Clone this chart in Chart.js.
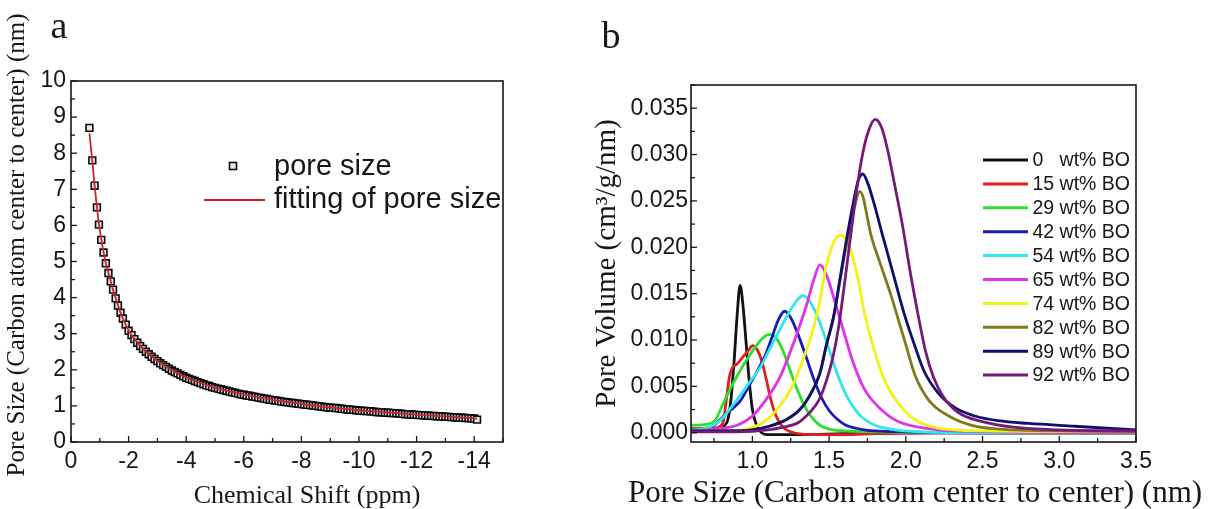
<!DOCTYPE html>
<html><head><meta charset="utf-8">
<script src="https://cdn.jsdelivr.net/npm/chart.js@4.4.1/dist/chart.umd.min.js"></script>
<style>
html,body{margin:0;padding:0;background:#fff;width:1210px;height:509px;overflow:hidden}
#ca{position:absolute;left:0;top:0}
#cb{position:absolute;left:560px;top:0}
</style></head><body>
<canvas id="ca" width="560" height="509"></canvas>
<canvas id="cb" width="650" height="509"></canvas>
<script>
// ---------- Panel a data ----------
const chemicalShift = [-0.64,-0.74,-0.82,-0.90,-0.97,-1.05,-1.13,-1.21,-1.30,-1.38,-1.46,-1.55,-1.63,-1.72,-1.80,-1.90,
  -2.0,-2.1,-2.2,-2.3,-2.4,-2.5,-2.6,-2.7,-2.8,-2.9,-3.0,-3.1,-3.2,-3.3,-3.4,-3.5,-3.6,-3.7,-3.8,-3.9,
  -4.0,-4.1,-4.2,-4.3,-4.4,-4.5,-4.6,-4.7,-4.8,-4.9,-5.0,-5.1,-5.2,-5.3,-5.4,-5.5,-5.6,-5.7,-5.8,-5.9,
  -6.0,-6.1,-6.2,-6.3,-6.4,-6.5,-6.6,-6.7,-6.8,-6.9,-7.0,-7.1,-7.2,-7.3,-7.4,-7.5,-7.6,-7.7,-7.8,-7.9,
  -8.0,-8.1,-8.2,-8.3,-8.4,-8.5,-8.6,-8.7,-8.8,-8.9,-9.0,-9.1,-9.2,-9.3,-9.4,-9.5,-9.6,-9.7,-9.8,-9.9,
  -10.0,-10.1,-10.2,-10.3,-10.4,-10.5,-10.6,-10.7,-10.8,-10.9,-11.0,-11.1,-11.2,-11.3,-11.4,-11.5,-11.6,-11.7,-11.8,-11.9,
  -12.0,-12.1,-12.2,-12.3,-12.4,-12.5,-12.6,-12.7,-12.8,-12.9,-13.0,-13.1,-13.2,-13.3,-13.4,-13.5,-13.6,-13.7,-13.8,-13.9,
  -14.0,-14.1];
const poreSize = [8.70,7.80,7.10,6.50,6.02,5.60,5.25,4.95,4.68,4.45,4.22,3.98,3.78,3.58,3.42,3.25,
  3.08,2.96,2.85,2.75,2.66,2.58,2.50,2.43,2.36,2.30,2.24,2.18,2.13,2.08,2.03,1.98,1.94,1.90,1.86,1.82,
  1.78,1.75,1.72,1.69,1.66,1.63,1.60,1.57,1.55,1.52,1.50,1.48,1.46,1.44,1.42,1.40,1.38,1.36,1.34,1.32,
  1.31,1.29,1.28,1.26,1.25,1.23,1.22,1.20,1.19,1.17,1.16,1.15,1.14,1.12,1.11,1.10,1.09,1.08,1.07,1.06,
  1.05,1.04,1.03,1.02,1.01,1.00,0.99,0.98,0.97,0.96,0.95,0.945,0.94,0.93,0.92,0.91,0.90,0.895,0.89,0.88,
  0.87,0.865,0.86,0.855,0.85,0.84,0.83,0.825,0.82,0.815,0.81,0.805,0.80,0.795,0.79,0.78,0.77,0.765,0.76,0.755,
  0.75,0.745,0.74,0.735,0.73,0.725,0.72,0.715,0.71,0.705,0.70,0.695,0.69,0.685,0.68,0.675,0.67,0.665,0.66,0.655,
  0.65,0.62];
const fitShift = [-0.64,-0.74,-0.82,-0.90,-0.97,-1.05,-1.13,-1.21,-1.30,-1.38,-1.46,-1.55,-1.63,-1.72,-1.80,-1.90,
  -2.0,-2.4,-2.8,-3.2,-3.6,-4.0,-4.5,-5.0,-5.5,-6.0,-7.0,-8.0,-9.0,-10.0,-11.0,-12.0,-13.0,-14.1];
const fitSize = [8.55,7.78,7.10,6.50,6.04,5.61,5.26,4.95,4.68,4.45,4.22,3.99,3.79,3.59,3.43,3.26,
  3.09,2.67,2.37,2.14,1.95,1.79,1.64,1.51,1.41,1.32,1.17,1.06,0.96,0.88,0.82,0.76,0.71,0.65];
const panelALabels = ['pore size', 'fitting of pore size'];

// ---------- Panel b data ----------
const seriesLabels = ['0   wt% BO','15 wt% BO','29 wt% BO','42 wt% BO','54 wt% BO','65 wt% BO','74 wt% BO','82 wt% BO','89 wt% BO','92 wt% BO'];
const bo0Size = [0.60,0.70,0.78,0.82,0.84,0.86,0.88,0.90,0.92,0.94,0.96,0.98,1.00,1.03,1.06,1.10,1.30,1.60,2.00,2.50,3.00,3.50];
const bo0Vol  = [0.0004,0.0004,0.0005,0.0008,0.0014,0.0035,0.0075,0.0125,0.0159,0.0135,0.0095,0.0055,0.0025,0.0007,0.0000,-0.0002,-0.0002,-0.0001,0.0000,0.0000,0.0000,0.0000];
const bo15Size = [0.60,0.70,0.78,0.81,0.83,0.85,0.87,0.90,0.94,0.98,1.00,1.03,1.06,1.09,1.12,1.15,1.20,1.27,1.40,1.60,1.80,2.20,3.50];
const bo15Vol  = [0.0004,0.0004,0.0006,0.0012,0.0035,0.0060,0.0070,0.0074,0.0082,0.0090,0.0094,0.0090,0.0078,0.0058,0.0036,0.0020,0.0006,0.0000,-0.0002,-0.0002,-0.0001,0.0000,0.0000];
const bo29Size = [0.60,0.70,0.76,0.80,0.84,0.88,0.92,0.96,1.00,1.04,1.08,1.12,1.16,1.20,1.24,1.28,1.32,1.36,1.40,1.45,1.50,1.60,1.80,2.50,3.50];
const bo29Vol  = [0.0008,0.0009,0.0014,0.0028,0.0042,0.0055,0.0067,0.0078,0.0088,0.0097,0.0104,0.0106,0.0101,0.0088,0.0070,0.0052,0.0036,0.0023,0.0014,0.0007,0.0004,0.0002,0.0001,0.0000,0.0000];
const bo42Size = [0.60,0.68,0.74,0.79,0.83,0.87,0.92,0.96,1.00,1.05,1.09,1.13,1.17,1.21,1.25,1.30,1.35,1.40,1.45,1.50,1.55,1.60,1.70,1.80,2.00,2.50,3.50];
const bo42Vol  = [0.0003,0.0004,0.0007,0.0014,0.0021,0.0026,0.0034,0.0045,0.0057,0.0072,0.0086,0.0104,0.0122,0.0131,0.0124,0.0105,0.0082,0.0058,0.0038,0.0024,0.0015,0.0009,0.0004,0.0002,0.0001,0.0000,0.0000];
const bo54Size = [0.60,0.70,0.79,0.85,0.92,0.98,1.05,1.10,1.16,1.22,1.27,1.33,1.38,1.43,1.49,1.55,1.62,1.70,1.80,1.90,2.10,2.50,3.50];
const bo54Vol  = [0.0003,0.0005,0.0013,0.0025,0.0040,0.0054,0.0070,0.0086,0.0105,0.0124,0.0138,0.0148,0.0140,0.0123,0.0095,0.0065,0.0038,0.0019,0.0008,0.0004,0.0001,0.0000,0.0000];
const bo65Size = [0.60,0.75,0.90,1.00,1.09,1.18,1.26,1.35,1.40,1.44,1.49,1.54,1.58,1.65,1.73,1.84,1.95,2.17,2.60,3.50];
const bo65Vol  = [0.0002,0.0004,0.0008,0.0018,0.0036,0.0060,0.0093,0.0136,0.0165,0.0181,0.0167,0.0140,0.0118,0.0079,0.0047,0.0025,0.0012,0.0004,0.0001,0.0000];
const bo74Size = [0.60,0.80,0.96,1.07,1.18,1.26,1.33,1.40,1.44,1.48,1.53,1.58,1.63,1.69,1.73,1.80,1.86,1.95,2.06,2.21,2.50,3.50];
const bo74Vol  = [0.0002,0.0002,0.0004,0.0011,0.0029,0.0050,0.0079,0.0114,0.0143,0.0179,0.0205,0.0213,0.0201,0.0165,0.0129,0.0086,0.0057,0.0032,0.0014,0.0005,0.0002,0.0001];
const bo82Size = [0.60,0.90,1.00,1.11,1.22,1.31,1.37,1.44,1.48,1.53,1.57,1.61,1.66,1.70,1.72,1.74,1.77,1.83,1.90,1.96,2.00,2.06,2.15,2.28,2.43,2.70,3.00,3.50];
const bo82Vol  = [0.0002,0.0002,0.0003,0.0007,0.0014,0.0025,0.0039,0.0064,0.0093,0.0125,0.0163,0.0200,0.0240,0.0260,0.0255,0.0240,0.0215,0.0184,0.0150,0.0117,0.0095,0.0062,0.0035,0.0018,0.0008,0.0003,0.0002,0.0001];
const bo89Size = [0.60,0.90,1.00,1.11,1.22,1.31,1.37,1.44,1.48,1.53,1.57,1.61,1.66,1.69,1.72,1.75,1.79,1.85,1.92,1.99,2.06,2.12,2.21,2.32,2.45,2.60,2.80,3.10,3.50];
const bo89Vol  = [0.0002,0.0002,0.0003,0.0007,0.0014,0.0025,0.0039,0.0064,0.0093,0.0126,0.0165,0.0205,0.0250,0.0272,0.0279,0.0270,0.0249,0.0212,0.0170,0.0128,0.0093,0.0066,0.0043,0.0027,0.0018,0.0013,0.0010,0.0007,0.0003];
const bo92Size = [0.60,0.90,1.10,1.20,1.30,1.38,1.43,1.47,1.52,1.56,1.60,1.64,1.68,1.72,1.76,1.80,1.84,1.88,1.93,1.98,2.03,2.08,2.13,2.18,2.24,2.34,2.50,2.70,3.00,3.50];
const bo92Vol  = [0.0001,0.0001,0.0003,0.0006,0.0011,0.0023,0.0034,0.0050,0.0078,0.0112,0.0160,0.0212,0.0262,0.0302,0.0327,0.0338,0.0330,0.0306,0.0265,0.0222,0.0172,0.0127,0.0087,0.0060,0.0040,0.0022,0.0012,0.0006,0.0003,0.0002];

const seriesSizes = [bo0Size,bo15Size,bo29Size,bo42Size,bo54Size,bo65Size,bo74Size,bo82Size,bo89Size,bo92Size];
const seriesVols  = [bo0Vol,bo15Vol,bo29Vol,bo42Vol,bo54Vol,bo65Vol,bo74Vol,bo82Vol,bo89Vol,bo92Vol];
const seriesColors = ['#111111','#e0201c','#2ee02e','#1a1ab8','#33e6ee','#e033e6','#f2f21a','#7f7a1e','#0f0f6e','#751a78'];

const INK = '#161616';
const SANS = "'Liberation Sans', Arial, sans-serif";
const SERIF = "'Liberation Serif', 'Times New Roman', serif";

function framePlugin(majorLen, minorLen) {
  return {
    id: 'frame',
    afterDatasetsDraw(chart) {
      const {ctx, chartArea: a, scales} = chart;
      ctx.save();
      ctx.strokeStyle = INK;
      ctx.lineWidth = 1.6;
      ctx.strokeRect(a.left, a.top, a.right - a.left, a.bottom - a.top);
      ctx.lineWidth = 1.3;
      ['x', 'y'].forEach(id => {
        const s = scales[id];
        const major = s.ticks.map(t => t.value);
        const step = Math.abs(major[1] - major[0]);
        const lo = Math.min(s.min, s.max), hi = Math.max(s.min, s.max);
        const minor = [];
        major.forEach(v => [v - step / 2, v + step / 2].forEach(m => {
          if (m >= lo - 1e-9 && m <= hi + 1e-9 &&
              !minor.some(q => Math.abs(q - m) < step / 10) &&
              !major.some(q => Math.abs(q - m) < step / 10)) minor.push(m);
        }));
        const draw = (v, len) => {
          const p = s.getPixelForValue(v);
          ctx.beginPath();
          if (id === 'x') { ctx.moveTo(p, a.bottom); ctx.lineTo(p, a.bottom - len); }
          else { ctx.moveTo(a.left, p); ctx.lineTo(a.left + len, p); }
          ctx.stroke();
        };
        major.forEach(v => draw(v, majorLen));
        minor.forEach(v => draw(v, minorLen));
      });
      ctx.restore();
    }
  };
}

// ---------- Chart a ----------
const decorA = {
  id: 'decorA',
  afterDraw(chart) {
    const ctx = chart.ctx;
    const ds = chart.data.datasets;
    ctx.save();
    ctx.fillStyle = INK;
    ctx.font = '38px ' + SERIF;
    ctx.textAlign = 'center'; ctx.textBaseline = 'alphabetic';
    ctx.fillText('a', 59, 38);
    ctx.font = '26px ' + SERIF;
    ctx.fillText('Chemical Shift (ppm)', 307, 503);
    ctx.save();
    ctx.translate(17, 245); ctx.rotate(-Math.PI / 2);
    ctx.font = '25px ' + SERIF; ctx.textBaseline = 'middle';
    ctx.fillText('Pore Size (Carbon atom center to center) (nm)', 0, 0);
    ctx.restore();
    // legend
    ctx.font = '29px ' + SANS; ctx.textAlign = 'left'; ctx.textBaseline = 'middle';
    ctx.fillStyle = ds[0].pointBackgroundColor;
    ctx.strokeStyle = ds[0].pointBorderColor; ctx.lineWidth = ds[0].pointBorderWidth;
    ctx.fillRect(229.5, 162.5, 7, 7); ctx.strokeRect(229.5, 162.5, 7, 7);
    ctx.fillStyle = INK;
    ctx.fillText(ds[0].label, 274, 167);
    ctx.strokeStyle = ds[1].borderColor; ctx.lineWidth = 2;
    ctx.beginPath(); ctx.moveTo(204, 200); ctx.lineTo(265, 200); ctx.stroke();
    ctx.fillText(ds[1].label, 274, 200);
    ctx.restore();
  }
};

new Chart(document.getElementById('ca'), {
  type: 'line',
  data: {
    datasets: [
      { label: panelALabels[0], data: chemicalShift.map((x, i) => ({x, y: poreSize[i]})),
        showLine: false, pointStyle: 'rect', pointRadius: 4.8, pointBorderColor: '#0a0a0a',
        pointBackgroundColor: '#e6e6e6', pointBorderWidth: 1.6, order: 1 },
      { label: panelALabels[1], data: fitShift.map((x, i) => ({x, y: fitSize[i]})),
        borderColor: '#c8282a', borderWidth: 1.8, pointRadius: 0, fill: false,
        cubicInterpolationMode: 'monotone', order: 0 }
    ]
  },
  options: {
    responsive: false, animation: false, devicePixelRatio: 1,
    layout: { padding: { left: 0, top: 81, right: 57, bottom: 0 } },
    plugins: { legend: { display: false }, tooltip: { enabled: false } },
    scales: {
      x: { type: 'linear', min: -15, max: 0, reverse: true,
        afterFit(s) { s.height = 67; },
        grid: { display: false, drawTicks: false }, border: { display: false },
        ticks: { stepSize: 2, includeBounds: false, autoSkip: false, maxRotation: 0, padding: 6,
          color: INK, font: { family: SANS, size: 23 }, callback: v => String(v) } },
      y: { type: 'linear', min: 0, max: 10,
        afterFit(s) { s.width = 71; },
        grid: { display: false, drawTicks: false }, border: { display: false },
        ticks: { stepSize: 1, includeBounds: false, autoSkip: false, padding: 5,
          color: INK, font: { family: SANS, size: 23 }, callback: v => String(v) } }
    }
  },
  plugins: [framePlugin(6, 4), decorA]
});

// ---------- Chart b ----------
const decorB = {
  id: 'decorB',
  afterDraw(chart) {
    const ctx = chart.ctx;
    const ds = chart.data.datasets;
    ctx.save();
    ctx.fillStyle = INK;
    ctx.font = '38px ' + SERIF;
    ctx.textAlign = 'center'; ctx.textBaseline = 'alphabetic';
    ctx.fillText('b', 51, 48);
    ctx.font = '31px ' + SERIF;
    ctx.fillText(chart.options.scales.x.title.text, 355, 502);
    ctx.font = '19.5px ' + SANS; ctx.textAlign = 'left'; ctx.textBaseline = 'middle';
    ds.forEach((d, i) => {
      const y = 160 + i * 23.9;
      ctx.strokeStyle = d.borderColor; ctx.lineWidth = 3;
      ctx.beginPath(); ctx.moveTo(423, y); ctx.lineTo(468, y); ctx.stroke();
      ctx.fillStyle = INK;
      ctx.fillText(d.label, 472.5, y + 1);
    });
    ctx.restore();
  }
};

new Chart(document.getElementById('cb'), {
  type: 'line',
  data: {
    datasets: seriesLabels.map((label, i) => ({
      label,
      data: seriesSizes[i].map((x, k) => ({x, y: seriesVols[i][k]})),
      borderColor: seriesColors[i], borderWidth: 2.8, pointRadius: 0, fill: false,
      cubicInterpolationMode: 'monotone', order: 10 - i
    }))
  },
  options: {
    responsive: false, animation: false, devicePixelRatio: 1,
    layout: { padding: { left: 0, top: 85, right: 74, bottom: 0 } },
    plugins: { legend: { display: false }, tooltip: { enabled: false } },
    scales: {
      x: { type: 'linear', min: 0.6, max: 3.5,
        afterFit(s) { s.height = 67; },
        grid: { display: false, drawTicks: false }, border: { display: false },
        title: { display: false, text: 'Pore Size (Carbon atom center to center) (nm)' },
        ticks: { stepSize: 0.5, includeBounds: false, autoSkip: false, maxRotation: 0, padding: 6,
          color: INK, font: { family: SANS, size: 23 }, callback: v => Number(v).toFixed(1) } },
      y: { type: 'linear', min: -0.001, max: 0.0375,
        afterFit(s) { s.width = 131; },
        grid: { display: false, drawTicks: false }, border: { display: false },
        title: { display: true, text: 'Pore Volume (cm³/g/nm)', color: INK,
          font: { family: SERIF, size: 29, lineHeight: 1.2 }, padding: { top: 30, bottom: 0 } },
        ticks: { stepSize: 0.005, includeBounds: false, autoSkip: false, padding: 3,
          color: INK, font: { family: SANS, size: 23 }, callback: v => Number(v).toFixed(3) } }
    }
  },
  plugins: [framePlugin(6, 4), decorB]
});
</script>
</body></html>
